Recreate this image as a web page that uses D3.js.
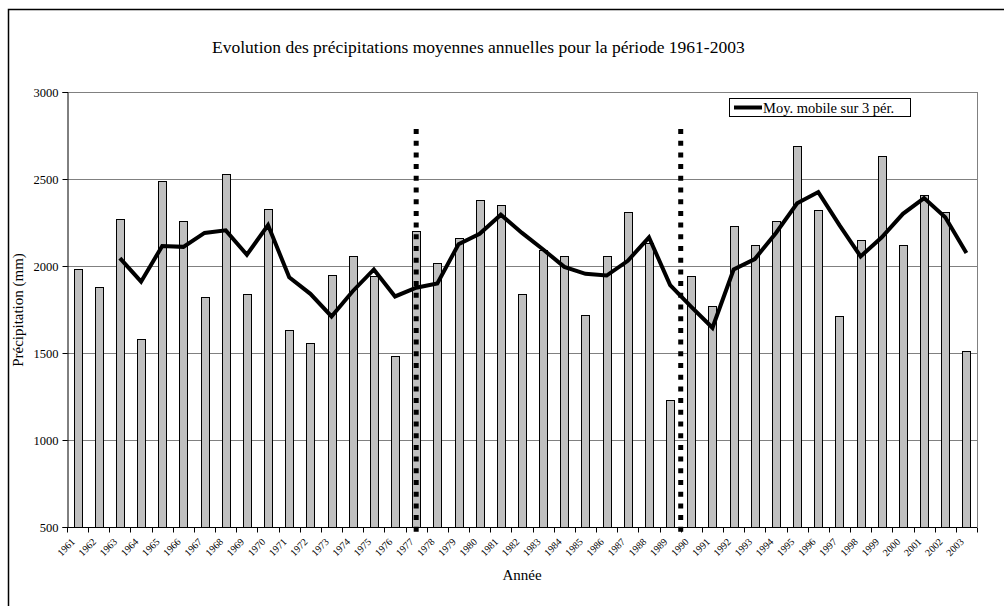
<!DOCTYPE html>
<html><head><meta charset="utf-8">
<script src="https://cdn.jsdelivr.net/npm/d3@7"></script>
<style>body{margin:0;background:#fff}svg{display:block}svg text{font-family:"Liberation Serif","Times New Roman","DejaVu Serif",serif;fill:#000}</style>
</head><body><svg id="c" width="1004" height="606"></svg>
<script>
const years = d3.range(1961, 2004).map(String);
const precip = [1980,1880,2270,1580,2490,2260,1820,2530,1840,2330,1630,1560,1950,2060,1940,1480,2200,2020,2160,2380,2350,1840,2090,2060,1720,2060,2310,2130,1230,1940,1770,2230,2120,2260,2690,2320,1710,2150,2630,2120,2410,2310,1510];
const maYears = d3.range(1963, 2004).map(String);
const movingAvg = [2045,1910,2115,2110,2190,2205,2065,2235,1935,1840,1710,1855,1980,1825,1875,1900,2125,2185,2295,2190,2095,1995,1955,1945,2030,2165,1890,1765,1645,1980,2040,2190,2360,2425,2235,2055,2165,2300,2390,2280,2075];
const yTicks = [500,1000,1500,2000,2500,3000];
const title = "Evolution des précipitations moyennes annuelles pour la période 1961-2003";
const legendLabel = "Moy. mobile sur 3 pér.";
const dividerYears = [{year:"1977", pos:"center"},{year:"1990", pos:"start"}];

const FONT = '"Liberation Serif","Times New Roman","DejaVu Serif",serif';
const svg = d3.select("#c");
const L=67, R=977, T=92, B=527;
const x = d3.scaleBand().domain(years).range([L,R]).paddingInner(0).paddingOuter(0);
const y = d3.scaleLinear().domain([500,3000]).range([B,T]);

// outer frame
svg.append("rect").attr("x",8.5).attr("y",9.5).attr("width",1100).attr("height",700)
  .attr("fill","none").attr("stroke","#000").attr("stroke-width",1.5);

svg.append("text").attr("x",212).attr("y",53).attr("text-anchor","start")
  .style("font-family",FONT).style("font-size","17.5px").text(title);

// grid
svg.append("g").selectAll("line").data(yTicks.filter(d=>d>500)).join("line")
  .attr("x1",L).attr("x2",R).attr("y1",d=>Math.round(y(d))+0.5).attr("y2",d=>Math.round(y(d))+0.5)
  .attr("stroke","#808080").attr("stroke-width",1);
svg.append("line").attr("x1",R+0.5).attr("x2",R+0.5).attr("y1",T).attr("y2",B).attr("stroke","#808080");

// bars
const bw = 8;
svg.append("g").selectAll("rect").data(precip).join("rect")
  .attr("x",(d,i)=>Math.round(x(years[i])+x.bandwidth()/2-bw/2)+0.5)
  .attr("y",d=>Math.round(y(d))+0.5)
  .attr("width",bw).attr("height",d=>B-Math.round(y(d)))
  .attr("fill","#c0c0c0").attr("stroke","#000").attr("stroke-width",1);

// axes
const yAxis = d3.axisLeft(y).tickValues(yTicks).tickSize(5).tickPadding(4).tickFormat(d3.format("d"));
const gy = svg.append("g").attr("transform",`translate(${L+0.5},0)`).call(yAxis);
gy.attr("font-family",null).attr("font-size",null);
gy.select(".domain").attr("stroke","#000");
gy.selectAll("text").style("font-size","12.5px").style("font-family",FONT);

const gx = svg.append("g").attr("transform",`translate(0,${B+0.5})`);
gx.append("line").attr("x1",L).attr("x2",R).attr("stroke","#000");
gx.selectAll(".tk").data(years.concat(["end"])).join("line").attr("class","tk")
  .attr("x1",(d,i)=>Math.round(L+i*x.bandwidth())+0.5).attr("x2",(d,i)=>Math.round(L+i*x.bandwidth())+0.5)
  .attr("y1",0).attr("y2",5).attr("stroke","#000");
gx.selectAll(".lb").data(years).join("text").attr("class","lb")
  .attr("transform",d=>`translate(${x(d)+x.bandwidth()/2-2},${15}) rotate(-45)`)
  .attr("text-anchor","end").style("font-family",FONT).style("font-size","10px").text(d=>d);

// moving average
const line = d3.line().x((d,i)=>x(maYears[i])+x.bandwidth()/2).y(d=>y(d));
svg.append("path").datum(movingAvg).attr("d",line).attr("fill","none")
  .attr("stroke","#000").attr("stroke-width",4).attr("stroke-linejoin","miter");

// dotted dividers
svg.append("g").selectAll("line").data(dividerYears).join("line")
  .attr("x1",d=>d.pos==="center"?x(d.year)+x.bandwidth()/2:x(d.year))
  .attr("x2",d=>d.pos==="center"?x(d.year)+x.bandwidth()/2:x(d.year))
  .attr("y1",129).attr("y2",536).attr("stroke","#000").attr("stroke-width",5)
  .attr("stroke-dasharray","5,6.7");

// axis titles
svg.append("text").attr("transform","translate(23,310) rotate(-90)").attr("text-anchor","middle")
  .style("font-family",FONT).style("font-size","15px").text("Précipitation (mm)");
svg.append("text").attr("x",(L+R)/2).attr("y",580).attr("text-anchor","middle")
  .style("font-family",FONT).style("font-size","15px").text("Année");

// legend
const lg = svg.append("g");
lg.append("rect").attr("x",729.5).attr("y",98.5).attr("width",181).attr("height",18)
  .attr("fill","#fff").attr("stroke","#000");
lg.append("line").attr("x1",734).attr("x2",762).attr("y1",107.5).attr("y2",107.5)
  .attr("stroke","#000").attr("stroke-width",4);
lg.append("text").attr("x",763).attr("y",112.5).style("font-family",FONT).style("font-size","14.5px").text(legendLabel);
</script></body></html>
